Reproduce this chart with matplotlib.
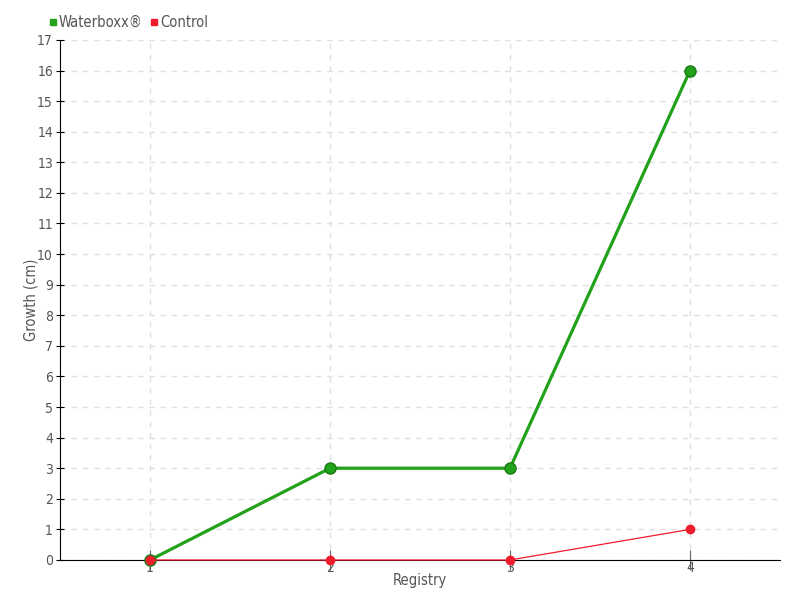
import matplotlib
matplotlib.use("Agg")
import matplotlib.pyplot as plt

registry = [1, 2, 3, 4]
waterboxx = [0, 3, 3, 16]
control = [0, 0, 0, 1]
y_ticks = list(range(0, 18))

plt.rcParams['font.family'] = ['DejaVu Sans']
plt.rcParams['font.stretch'] = 'condensed'
text_color = '#555555'

fig = plt.figure(figsize=(8, 6), dpi=100)
ax = fig.add_axes([0.075, 0.0667, 0.9, 0.8667])

ax.plot(registry, waterboxx, color='#22a11a', linewidth=2.3, marker='o',
        markersize=8, markerfacecolor='#22a11a', markeredgecolor='#1a7a14',
        markeredgewidth=1, label='Waterboxx®', zorder=3, clip_on=False)
ax.plot(registry, control, color='#ee1c2c', linewidth=0.9, marker='o',
        markersize=6, markerfacecolor='#ee1c2c', markeredgecolor='#ee1c2c',
        label='Control', zorder=4, clip_on=False)

ax.set_xlim(0.5, 4.5)
ax.set_ylim(0, 17)
ax.set_xticks(registry)
ax.set_yticks(y_ticks)
ax.grid(True, color='#e0e0e0', linestyle=(0, (4, 4)), linewidth=1)
ax.set_axisbelow(True)

for side in ['top', 'right']:
    ax.spines[side].set_visible(False)
for side in ['left', 'bottom']:
    ax.spines[side].set_color('black')

ax.tick_params(axis='y', direction='inout', length=6, colors='black',
               labelcolor=text_color, labelsize=10, pad=2)
ax.tick_params(axis='x', direction='inout', length=14, colors='#666666',
               labelcolor=text_color, labelsize=10, pad=-6)

ax.set_xlabel('Registry', color=text_color, fontsize=10.5, labelpad=-2)
ax.set_ylabel('Growth (cm)', color=text_color, fontsize=10.5, labelpad=-1)

leg = ax.legend(loc='lower left', bbox_to_anchor=(-0.028, 1.0), ncol=2,
                frameon=False, fontsize=10.5, handlelength=0.4,
                handletextpad=0.2, columnspacing=0.6, borderaxespad=0.3)
for h, c in zip(leg.legend_handles, ['#22a11a', '#ee1c2c']):
    h.set_marker('s')
    h.set_markersize(5)
    h.set_linestyle('')
    h.set_markerfacecolor(c)
    h.set_markeredgecolor(c)
for t in leg.get_texts():
    t.set_color(text_color)

fig.savefig('out.png', dpi=100)
